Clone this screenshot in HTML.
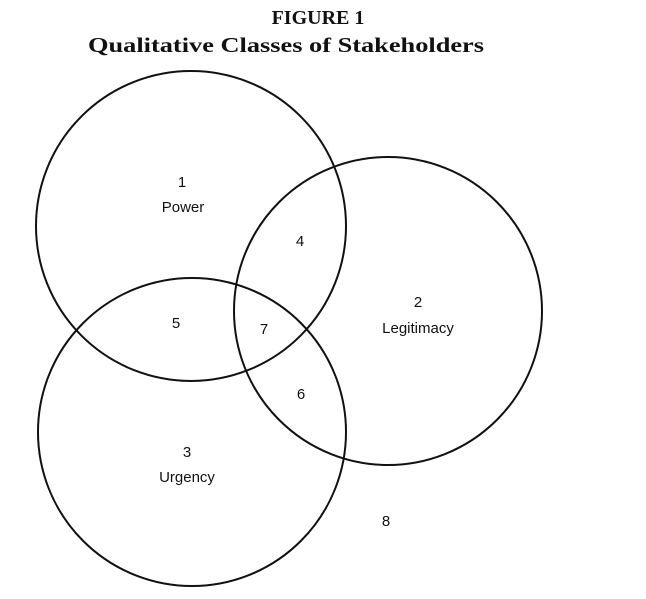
<!DOCTYPE html>
<html><head><meta charset="utf-8"><style>
html,body{margin:0;padding:0;background:#fff;}
svg{display:block;}
</style></head><body>
<svg width="646" height="599" viewBox="0 0 646 599" xmlns="http://www.w3.org/2000/svg">
<g font-family="Liberation Serif, serif" font-weight="bold" fill="#111" text-anchor="middle">
<text x="318" y="24" font-size="20">FIGURE 1</text>
<text x="286" y="52" font-size="21" textLength="396" lengthAdjust="spacingAndGlyphs">Qualitative Classes of Stakeholders</text>
</g>
<g fill="none" stroke="#111" stroke-width="2">
<circle cx="191" cy="226" r="155"/>
<circle cx="388" cy="311" r="154"/>
<circle cx="192" cy="432" r="154"/>
</g>
<g font-family="Liberation Sans, sans-serif" font-size="15" fill="#111" text-anchor="middle">
<text x="182" y="187">1</text>
<text x="183" y="212">Power</text>
<text x="300" y="246">4</text>
<text x="418" y="307">2</text>
<text x="418" y="333">Legitimacy</text>
<text x="176" y="328">5</text>
<text x="264" y="334">7</text>
<text x="301" y="399">6</text>
<text x="187" y="457">3</text>
<text x="187" y="482">Urgency</text>
<text x="386" y="526">8</text>
</g>
</svg>
</body></html>
